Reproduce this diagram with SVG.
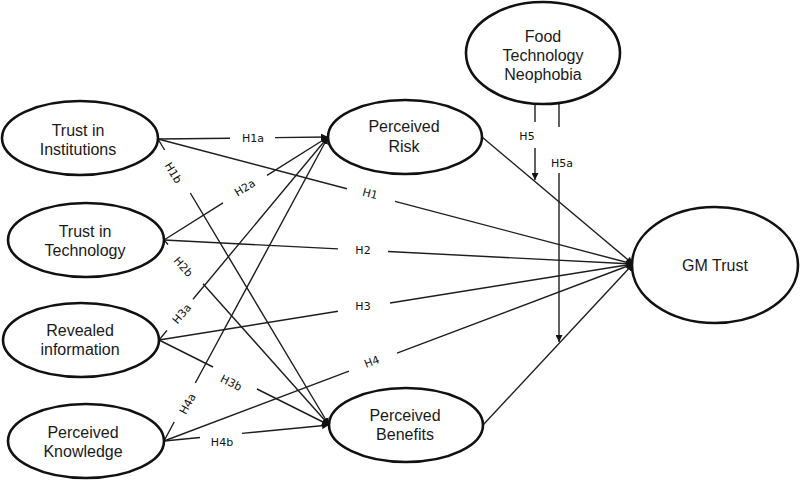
<svg xmlns="http://www.w3.org/2000/svg" width="800" height="481" viewBox="0 0 800 481">
<style>
.node ellipse{fill:#fff;stroke:#111;stroke-width:2.6}
.node text{font-family:"Liberation Sans",Arial,sans-serif;font-size:16px;fill:#1a1a1a;text-anchor:middle}
.conn path{fill:none;stroke:#1e1e1e;stroke-width:1.4}
.lbl text{font-family:"DejaVu Sans","Liberation Sans",sans-serif;font-size:11px;fill:#111;text-anchor:middle;dominant-baseline:central}
</style>
<defs>
<marker id="ah" viewBox="0 0 10 10" refX="10" refY="5" markerWidth="7" markerHeight="7" markerUnits="userSpaceOnUse" orient="auto">
<path d="M0,0 L10,5 L0,10 z" fill="#111"/>
</marker>
</defs>
<rect width="800" height="481" fill="#fff"/>
<g class="conn" id="connectors">
<path marker-end="url(#ah)" d="M158,139 L230,138.2 M275,137.6 L328,137"/>
<path marker-end="url(#ah)" d="M158,139 L347,188.7 M395,201.4 L633,264"/>
<path marker-end="url(#ah)" d="M158,139 L164.6,150 M190.3,193 L329,425"/>
<path marker-end="url(#ah)" d="M164,240 L223,202.9 M267,175.3 L328,137"/>
<path marker-end="url(#ah)" d="M164,240 L338,248.9 M388,251.5 L633,264"/>
<path marker-end="url(#ah)" d="M164,240 L168,244.5 M203,283.7 L329,425"/>
<path marker-end="url(#ah)" d="M159,340 L167,330.4 M193,299.2 L328,137"/>
<path marker-end="url(#ah)" d="M159,340 L338,311.3 M390,303 L633,264"/>
<path marker-end="url(#ah)" d="M159,340 L213,367 M257,389 L329,425"/>
<path marker-end="url(#ah)" d="M164,441 L174.2,422 M195.3,383 L328,137"/>
<path marker-end="url(#ah)" d="M164,441 L349,371.2 M397,353.1 L633,264"/>
<path marker-end="url(#ah)" d="M164,441 L200,437.5 M242,433.4 L329,425"/>
<path marker-end="url(#ah)" d="M482,137 L633,264"/>
<path marker-end="url(#ah)" d="M483,425 L633,264"/>
<path marker-end="url(#ah)" d="M535,104 L535,122 M535,148 L535,180"/>
<path marker-end="url(#ah)" d="M559,103 L559,127 M559,173 L559,342"/>
</g>
<g class="lbl" id="labels">
<text x="253" y="138.5">H1a</text>
<text transform="translate(370,194) rotate(14.7)">H1</text>
<text transform="translate(173,173) rotate(59)">H1b</text>
<text transform="translate(245,188) rotate(-32)">H2a</text>
<text x="363" y="250">H2</text>
<text transform="translate(183,267) rotate(48)">H2b</text>
<text transform="translate(182,314) rotate(-50)">H3a</text>
<text x="363" y="306">H3</text>
<text transform="translate(231,383) rotate(26.6)">H3b</text>
<text transform="translate(188,404) rotate(-61.7)">H4a</text>
<text transform="translate(372,362) rotate(-20.7)">H4</text>
<text x="222" y="442">H4b</text>
<text x="527" y="136">H5</text>
<text x="562" y="163">H5a</text>
</g>
<g class="node" id="trust-institutions"><ellipse cx="80" cy="138" rx="78" ry="37"/><text x="78" y="136">Trust in</text><text x="78" y="155">Institutions</text></g>
<g class="node" id="trust-technology"><ellipse cx="86" cy="240" rx="78" ry="37"/><text x="85" y="237">Trust in</text><text x="85" y="256">Technology</text></g>
<g class="node" id="revealed-information"><ellipse cx="81" cy="340" rx="78" ry="37"/><text x="80" y="336">Revealed</text><text x="80" y="355">information</text></g>
<g class="node" id="perceived-knowledge"><ellipse cx="86" cy="441" rx="78" ry="37"/><text x="83" y="438">Perceived</text><text x="83" y="457">Knowledge</text></g>
<g class="node" id="perceived-risk"><ellipse cx="405" cy="137" rx="77" ry="37"/><text x="404" y="132">Perceived</text><text x="404" y="152">Risk</text></g>
<g class="node" id="perceived-benefits"><ellipse cx="406" cy="425" rx="77" ry="37"/><text x="405" y="421">Perceived</text><text x="405" y="440">Benefits</text></g>
<g class="node" id="food-technology-neophobia"><ellipse cx="543" cy="53" rx="77" ry="51"/><text x="543" y="42">Food</text><text x="543" y="61">Technology</text><text x="543" y="80">Neophobia</text></g>
<g class="node" id="gm-trust"><ellipse cx="715" cy="265" rx="83" ry="58"/><text x="715" y="271">GM Trust</text></g>
</svg>
